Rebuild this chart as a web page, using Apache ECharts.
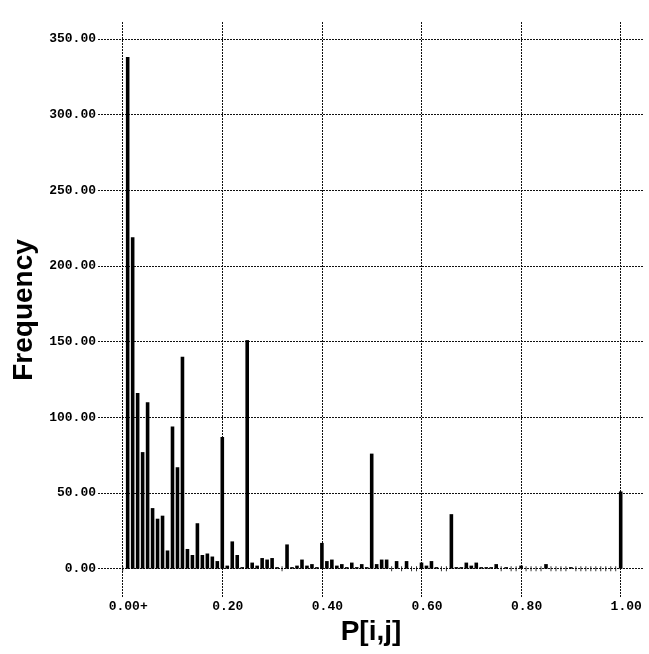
<!DOCTYPE html>
<html><head><meta charset="utf-8">
<script src="https://cdn.jsdelivr.net/npm/echarts@6/dist/echarts.min.js"></script>
<style>html,body{margin:0;padding:0;background:#fff}#c{width:649px;height:654px}</style>
</head><body><div id="c"></div>
<script>
const bins = [0.00,
  0.01,0.02,0.03,0.04,0.05,0.06,0.07,0.08,0.09,0.10,
  0.11,0.12,0.13,0.14,0.15,0.16,0.17,0.18,0.19,0.20,
  0.21,0.22,0.23,0.24,0.25,0.26,0.27,0.28,0.29,0.30,
  0.31,0.32,0.33,0.34,0.35,0.36,0.37,0.38,0.39,0.40,
  0.41,0.42,0.43,0.44,0.45,0.46,0.47,0.48,0.49,0.50,
  0.51,0.52,0.53,0.54,0.55,0.56,0.57,0.58,0.59,0.60,
  0.61,0.62,0.63,0.64,0.65,0.66,0.67,0.68,0.69,0.70,
  0.71,0.72,0.73,0.74,0.75,0.76,0.77,0.78,0.79,0.80,
  0.81,0.82,0.83,0.84,0.85,0.86,0.87,0.88,0.89,0.90,
  0.91,0.92,0.93,0.94,0.95,0.96,0.97,0.98,0.99,1.00];
const frequency = [0,
  338,219,116,77,110,40,33,35,12,94,
  67,140,13,9,30,9,10,8,5,87,
  2,18,9,1,151,4,2,7,6,7,
  1,0,16,1,2,6,2,3,1,17,
  5,6,2,3,1,4,1,3,1,76,
  3,6,6,0,5,0,5,0,0,4,
  2,5,1,0,0,36,1,1,4,2,
  4,1,1,1,3,0,1,0,0,2,
  0,0,0,0,3,0,0,0,0,1,
  0,0,0,0,0,0,0,0,0,51];
const xTicks = [0, 0.2, 0.4, 0.6, 0.8, 1.0];
const xTickLabels = ['0.00+', '0.20', '0.40', '0.60', '0.80', '1.00'];
const yTicks = [0, 50, 100, 150, 200, 250, 300, 350];
const yTickLabels = ['0.00', '50.00', '100.00', '150.00', '200.00', '250.00', '300.00', '350.00'];

const barData = bins.map((b, i) => [b, frequency[i]]);
const zeroData = bins.filter((b, i) => frequency[i] === 0).map(b => [b, 0]);

function lookup(ticks, labels, v) {
  for (let i = 0; i < ticks.length; i++) if (Math.abs(ticks[i] - v) < 1e-9) return labels[i];
  return '';
}
const grid = { left: 98, right: 5, top: 22, bottom: 56 };
const dotted = { type: [2, 1], color: '#111', width: 1 };
const monoLabel = { fontFamily: 'Liberation Mono', fontWeight: 'bold', fontSize: 13, color: '#000' };
const titleFont = { fontFamily: 'Liberation Sans', fontWeight: 'bold', fontSize: 28, color: '#000' };

const chart = echarts.init(document.getElementById('c'), null, { renderer: 'canvas' });
chart.setOption({
  animation: false,
  backgroundColor: '#fff',
  grid: grid,
  xAxis: {
    type: 'value', min: -0.0496, max: 1.0468,
    axisLine: { show: false },
    axisTick: { show: false, customValues: xTicks },
    splitLine: { show: true, lineStyle: dotted },
    axisLabel: Object.assign({ customValues: xTicks, margin: 2, padding: [0, 0, 0, 11],
      formatter: v => lookup(xTicks, xTickLabels, v) }, monoLabel),
    name: 'P[i,j]', nameLocation: 'middle', nameGap: 18, nameTextStyle: titleFont
  },
  yAxis: {
    type: 'value', min: -19.4, max: 361.2,
    axisLine: { show: false },
    axisTick: { show: false, customValues: yTicks },
    splitLine: { show: true, lineStyle: dotted },
    axisLabel: Object.assign({ customValues: yTicks, margin: 2,
      formatter: v => lookup(yTicks, yTickLabels, v) }, monoLabel),
    name: 'Frequency', nameLocation: 'middle', nameRotate: 90, nameGap: 58, nameTextStyle: titleFont
  },
  series: [
    { type: 'bar', data: barData, barWidth: 3.6, itemStyle: { color: '#000' }, silent: true },
    { type: 'scatter', data: zeroData, symbol: 'rect', symbolSize: [1, 5], itemStyle: { color: '#000' }, silent: true }
  ]
});
</script>
</body></html>
